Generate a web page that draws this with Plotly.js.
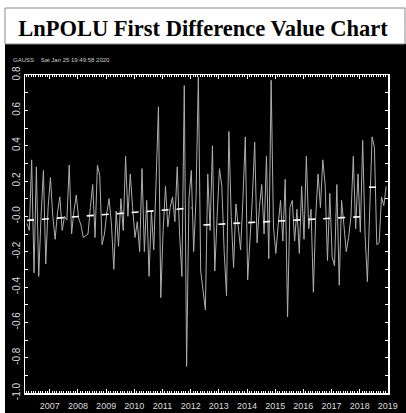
<!DOCTYPE html>
<html>
<head>
<meta charset="utf-8">
<script src="https://cdn.plot.ly/plotly-3.0.1.min.js"></script>
<style>
html,body{margin:0;padding:0;background:#fff;}
#chart{width:406px;height:413px;}
</style>
</head>
<body>
<div id="chart"></div>
<script>
// Monthly first differences of LnPOLU
const startYear = 2006.19;   // first observation (decimal year)
const lnpoluDiff = [
 -0.04,-0.08,0.32,-0.32,0.28,-0.34,0.00,0.26,-0.27,0.05,
  0.22,0.00,-0.13,0.02,0.11,-0.08,0.00,-0.02,0.29,-0.10,
  0.03,0.12,-0.01,-0.05,-0.12,-0.11,-0.10,0.05,0.18,-0.12,
  0.29,0.23,-0.16,-0.10,0.02,0.10,-0.05,-0.30,0.03,-0.17,
  0.10,-0.08,0.34,0.00,0.24,0.05,-0.12,-0.03,-0.20,0.27,
 -0.20,0.09,-0.34,0.03,-0.19,0.20,0.62,-0.46,-0.08,0.17,
 -0.06,0.05,0.11,-0.03,0.28,-0.10,-0.34,0.74,-0.85,0.10,
  0.26,-0.20,0.10,0.79,-0.31,-0.42,-0.53,0.24,-0.08,0.40,
 -0.31,0.00,0.27,0.17,-0.20,-0.45,0.48,0.00,-0.29,0.07,
 -0.08,-0.19,0.10,0.45,-0.36,-0.12,0.10,0.42,-0.15,0.05,
  0.18,-0.10,0.34,-0.24,0.77,-0.06,-0.21,-0.05,0.09,-0.14,
  0.21,-0.57,0.05,0.09,-0.14,0.04,-0.21,0.17,-0.13,0.34,
 -0.07,0.04,-0.43,0.00,0.24,0.05,0.32,0.18,-0.25,0.13,
 -0.23,-0.28,0.18,-0.39,0.09,-0.05,-0.20,-0.12,0.00,0.34,
 -0.07,0.24,-0.09,0.43,-0.10,-0.37,0.10,0.45,0.39,-0.16,
 -0.15,0.11,0.06,0.17
];
// Trend segments (dashed)
const trend1X = [2006.19, 2012.05];
const trend1Y = [-0.023, 0.047];
const trend2X = [2012.45, 2018.30];
const trend2Y = [-0.049, 0.000];
const trend3X = [2018.33, 2018.60];
const trend3Y = [0.165, 0.165];

const yearTicks = [2007,2008,2009,2010,2011,2012,2013,2014,2015,2016,2017,2018,2019];
const yearLabels = yearTicks.map(String);
const yTickVals = [-1.0,-0.9,-0.8,-0.7,-0.6,-0.5,-0.4,-0.3,-0.2,-0.1,0.0,0.1,0.2,0.3,0.4,0.5,0.6,0.7,0.8];
const yTickText = ["-1.0","","-0.8","","-0.6","","-0.4","","-0.2","","-0.0","","0.2","","0.4","","0.6","","0.8"];

const titleText = "LnPOLU First Difference Value Chart";
const stampText = "GAUSS&nbsp;&nbsp;&nbsp;&nbsp;Sat Jan 25 19:49:58 2020";

const xs = lnpoluDiff.map((v,i)=> startYear + i/12);

const traces = [
  {x: xs, y: lnpoluDiff, type:'scatter', mode:'lines',
   line:{color:'#aeaeae', width:1}, hoverinfo:'skip'},
  {x: trend1X, y: trend1Y, type:'scatter', mode:'lines',
   line:{color:'#ffffff', width:1.6, dash:'7px,8px'}, hoverinfo:'skip'},
  {x: trend2X, y: trend2Y, type:'scatter', mode:'lines',
   line:{color:'#ffffff', width:1.6, dash:'7px,8px'}, hoverinfo:'skip'},
  {x: trend3X, y: trend3Y, type:'scatter', mode:'lines',
   line:{color:'#ffffff', width:1.6, dash:'7px,8px'}, hoverinfo:'skip'}
];

// pixel helpers for paper coordinates (plot area 25..388 x, 75..393 y)
const L=25, R=388, T=75, B=393;
const px = x => (x-L)/(R-L);
const py = y => (B-y)/(B-T);

const layout = {
  width:406, height:413,
  margin:{l:L, r:406-R, t:T, b:413-B, pad:0},
  paper_bgcolor:'#ffffff',
  plot_bgcolor:'#000000',
  showlegend:false,
  title:{text:titleText, x:0.5, xref:'container', xanchor:'center',
         y:1-28/413, yref:'container', yanchor:'middle',
         font:{family:'Liberation Serif, Times New Roman, serif', size:22.5, color:'#000', weight:700}},
  xaxis:{range:[2006.12, 2019.005], tickmode:'array', tickvals:yearTicks, ticktext:yearLabels,
         ticks:'inside', ticklen:4, tickwidth:1, tickcolor:'#ffffff',
         showline:true, linecolor:'#ffffff', linewidth:1.5, mirror:'ticks',
         showgrid:false, zeroline:false, ticklabelstandoff:4,
         minor:{tickmode:'linear', tick0:2006, dtick:1/12, ticks:'inside', ticklen:2, tickcolor:'#ffffff', showgrid:false},
         tickfont:{family:'Liberation Sans, Arial, sans-serif', size:9, color:'#dddddd'}},
  yaxis:{range:[-1.0, 0.8], tickmode:'array', tickvals:yTickVals, ticktext:yTickText,
         tickangle:-90, ticks:'inside', ticklen:3, tickwidth:1, tickcolor:'#ffffff',
         showline:true, linecolor:'#ffffff', linewidth:1.5, mirror:'ticks',
         showgrid:false, zeroline:false,
         tickfont:{family:'Liberation Sans, Arial, sans-serif', size:10, color:'#dddddd'}},
  shapes:[
    {type:'rect', xref:'paper', yref:'paper', layer:'below',
     x0:px(5), x1:px(406), y0:py(413), y1:py(44),
     fillcolor:'#000000', line:{width:0}},
    {type:'rect', xref:'paper', yref:'paper', layer:'below',
     x0:px(5), x1:px(405), y0:py(44), y1:py(8),
     fillcolor:'#ffffff', line:{color:'#8a8a8a', width:1}}
  ],
  annotations:[
    {text:stampText, xref:'paper', yref:'paper', x:px(11), y:py(60),
     xanchor:'left', yanchor:'middle', showarrow:false,
     font:{family:'Liberation Sans, Arial, sans-serif', size:6, color:'#cccccc'}}
  ]
};

Plotly.newPlot('chart', traces, layout, {staticPlot:true, displayModeBar:false});
</script>
</body>
</html>
